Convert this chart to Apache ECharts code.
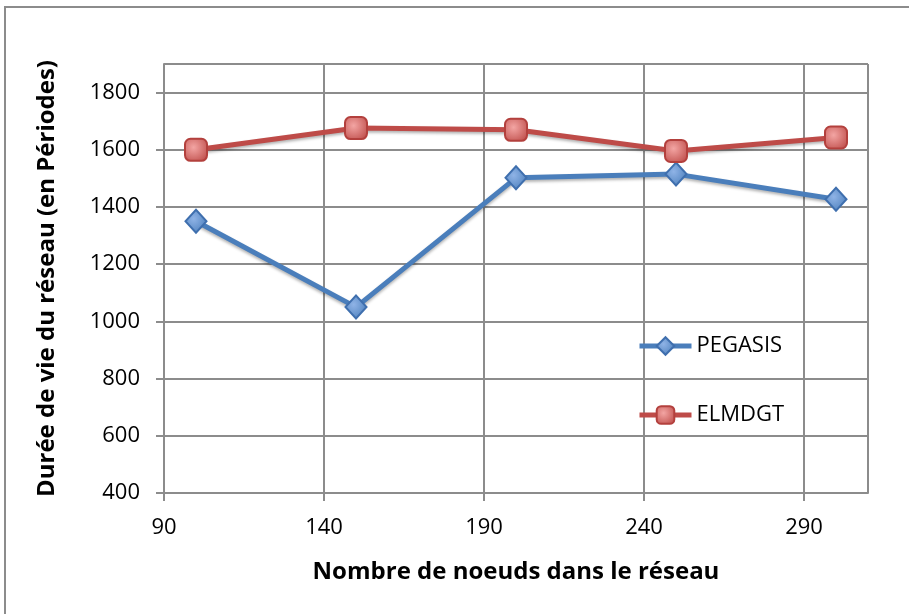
<!DOCTYPE html>
<html>
<head>
<meta charset="utf-8">
<script src="https://cdn.jsdelivr.net/npm/echarts@6/dist/echarts.min.js"></script>
<style>
	html, body { margin: 0; padding: 0; background: #fff; }
	#frame { position: absolute; left: 4px; top: 6px; width: 920px; height: 620px; border: 2px solid #8c8c8c; box-sizing: border-box; }
	#chart { position: absolute; left: 0; top: 0; width: 909px; height: 614px; }
</style>
</head>
<body>
<div id="frame"></div>
<div id="chart"></div>
<script>
const xValues = [100, 150, 200, 250, 300]
const pegasis = [1350, 1050, 1502, 1515, 1427]
const elmdgt = [1600, 1676, 1670, 1596, 1643]
const seriesNames = ['PEGASIS', 'ELMDGT']

const font = '"Open Sans", "Noto Sans", sans-serif'

const pairs = (vals) => xValues.map((x, i) => [x, vals[i]])

const markerFill = (light, dark) => new echarts.graphic.RadialGradient(0.4, 0.4, 0.7, [
	{ offset: 0, color: light },
	{ offset: 1, color: dark }
])

const chart = echarts.init(document.getElementById('chart'))
chart.setOption({
	animation: false,
	grid: { left: 164, top: 64, right: 41, bottom: 121 },
	legend: {
		orient: 'vertical',
		left: 632,
		top: 330,
		itemGap: 47,
		itemWidth: 52,
		itemHeight: 22,
		lineStyle: { width: 5 },
		textStyle: { fontFamily: font, fontSize: 22, color: '#000' },
		data: seriesNames
	},
	xAxis: {
		type: 'value',
		min: 90,
		max: 310,
		interval: 50,
		name: 'Nombre de noeuds dans le réseau',
		nameLocation: 'middle',
		nameGap: 67,
		nameTextStyle: { fontFamily: font, fontSize: 24, fontWeight: 'bold', color: '#000' },
		axisLine: { show: true, lineStyle: { color: '#8c8c8c', width: 2 } },
		axisTick: { show: true, inside: false, length: 8, lineStyle: { color: '#8c8c8c', width: 2 } },
		axisLabel: { fontFamily: font, fontSize: 22, color: '#000', margin: 24, showMaxLabel: false },
		splitLine: { show: true, lineStyle: { color: '#8c8c8c', width: 2 } }
	},
	yAxis: {
		type: 'value',
		min: 400,
		max: 1900,
		interval: 200,
		name: 'Durée de vie du réseau (en Périodes)',
		nameLocation: 'middle',
		nameGap: 105,
		nameTextStyle: { fontFamily: font, fontSize: 24, fontWeight: 'bold', color: '#000' },
		axisLine: { show: true, lineStyle: { color: '#8c8c8c', width: 2 } },
		axisTick: { show: true, inside: false, length: 8, lineStyle: { color: '#8c8c8c', width: 2 } },
		axisLabel: { fontFamily: font, fontSize: 22, color: '#000', margin: 24, showMaxLabel: false, formatter: (v) => String(v) },
		splitLine: { show: true, lineStyle: { color: '#8c8c8c', width: 2 } }
	},
	series: [
		{
			name: 'PEGASIS',
			type: 'line',
			data: pairs(pegasis),
			symbol: 'diamond',
			symbolSize: [21, 23],
			lineStyle: { color: '#4a7ebb', width: 5, shadowBlur: 3, shadowColor: 'rgba(0,0,0,0.3)', shadowOffsetY: 2 },
			itemStyle: { color: markerFill('#8fb3e6', '#4a7ebb'), borderColor: '#3f6fae', borderWidth: 2 }
		},
		{
			name: 'ELMDGT',
			type: 'line',
			data: pairs(elmdgt),
			symbol: 'roundRect',
			symbolSize: 22,
			lineStyle: { color: '#be4b48', width: 5, shadowBlur: 3, shadowColor: 'rgba(0,0,0,0.3)', shadowOffsetY: 2 },
			itemStyle: { color: markerFill('#f3a5a3', '#c0504d'), borderColor: '#b3403d', borderWidth: 2 }
		}
	]
})
</script>
</body>
</html>
